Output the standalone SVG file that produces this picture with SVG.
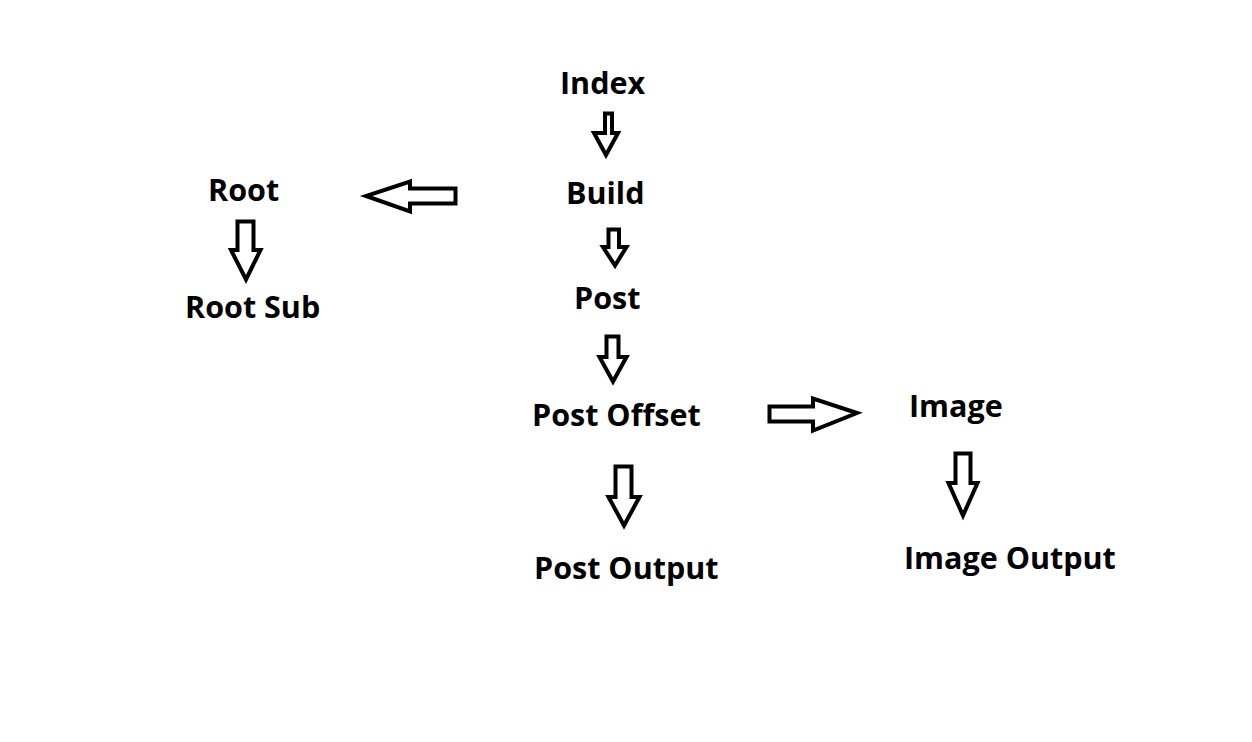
<svg xmlns="http://www.w3.org/2000/svg" width="1252" height="742" viewBox="0 0 1252 742">
<style>
.lbl{font-family:"Open Sans","Noto Sans","Liberation Sans",sans-serif;font-weight:bold;font-size:30.5px;fill:#000}
.arr{fill:#fff;stroke:#000;stroke-width:4;stroke-linejoin:miter}
</style>
<rect width="1252" height="742" fill="#fff"/>
<g id="connectors">
<path class="arr" d="M605,113.5 H612 V133 H618 L606,155 L594,133 H605 Z"/>
<path class="arr" d="M608.5,229.5 H619 V247 H626.5 L615,265.5 L603,247 H608.5 Z"/>
<path class="arr" d="M606.5,336.5 H618.5 V357 H626.5 L613,381.5 L599.5,357 H606.5 Z"/>
<path class="arr" d="M615.5,466.5 H631.5 V497 H639.5 L624,525.5 L608.5,497 H615.5 Z"/>
<path class="arr" d="M237.5,221.5 H253.5 V250 H260.5 L246,279.5 L231,250 H237.5 Z"/>
<path class="arr" d="M455.5,188.5 V203.5 H410 V211.5 L366,196 L410,181.5 V188.5 Z"/>
<path class="arr" d="M769.5,406.5 V421.5 H813 V430.5 L857,413 L813,398.5 V406.5 Z"/>
<path class="arr" d="M955.5,453.5 H970.5 V483 H977.5 L963,515.5 L948.5,483 H955.5 Z"/>
</g>
<g id="node-index"><text class="lbl" x="560" y="94">Index</text></g>
<g id="node-build"><text class="lbl" x="566" y="204">Build</text></g>
<g id="node-root"><text class="lbl" x="208" y="201">Root</text></g>
<g id="node-root-sub"><text class="lbl" x="185" y="318">Root Sub</text></g>
<g id="node-post"><text class="lbl" x="574" y="309">Post</text></g>
<g id="node-post-offset"><text class="lbl" x="532" y="426">Post Offset</text></g>
<g id="node-image"><text class="lbl" x="909" y="417">Image</text></g>
<g id="node-image-output"><text class="lbl" x="904" y="569">Image Output</text></g>
<g id="node-post-output"><text class="lbl" x="534" y="579">Post Output</text></g>
</svg>
